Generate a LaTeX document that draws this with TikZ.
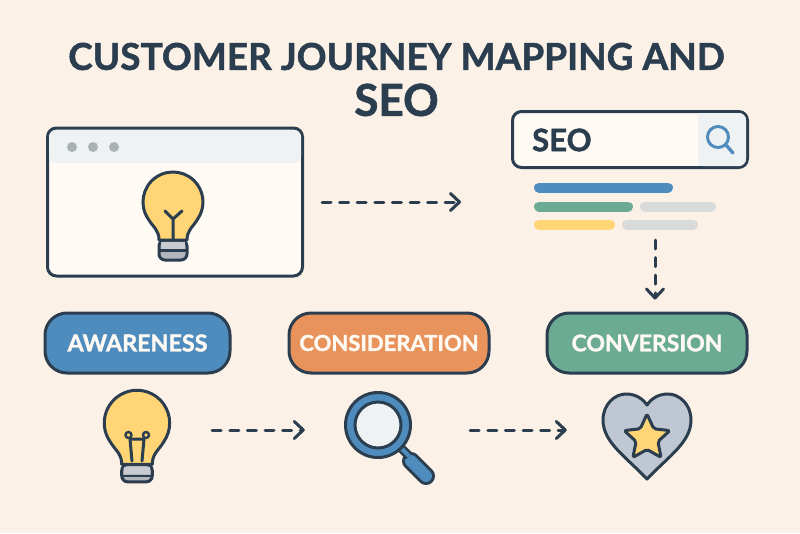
\documentclass[tikz,border=0pt]{standalone}
\usepackage{fontspec}
\setmainfont{Lato}[BoldFeatures={FakeBold=1.4}]
\usetikzlibrary{arrows.meta,shapes.geometric}
\definecolor{ink}{HTML}{2B3E50}
\definecolor{paper}{HTML}{FCF1E6}
\definecolor{panel}{HTML}{FFFAF4}
\definecolor{barfill}{HTML}{EFF2F3}
\definecolor{dotgrey}{HTML}{A9B1B5}
\definecolor{lamp}{HTML}{FFD575}
\definecolor{metal}{HTML}{B0B6BC}
\definecolor{awareblue}{HTML}{4F8CBE}
\definecolor{considerorange}{HTML}{E9935C}
\definecolor{convertgreen}{HTML}{6BAA93}
\definecolor{linegrey}{HTML}{D9DBDA}
\definecolor{heartgrey}{HTML}{BFC7D2}
\definecolor{pillwhite}{HTML}{FEFAF3}
\tikzset{
  stagepill/.style={draw=ink,line width=3pt,rounded corners=22pt,minimum height=60pt,
    text=pillwhite,font=\fontsize{23.3}{28}\selectfont\bfseries,inner sep=0pt},
  iconbox/.style={minimum size=60pt,inner sep=0pt},
  flow/.style={draw=ink,line width=3pt,dash pattern=on 9pt off 8.6pt,line cap=round,
    -{Straight Barb[length=9pt,width=17pt,round]}},
  resultbar/.style={line width=10pt,line cap=round},
  outline/.style={draw=ink,line width=3pt,line join=round},
  pics/bulb/.style={code={
    \path[outline,fill=metal,rounded corners=6pt] (-14,38) -- (-14,#1) -- (14,#1) -- (14,38) -- cycle;
    \fill[metal!70!white] (-12,40) rectangle (12,47);
    \draw[ink,line width=2.4pt] (-14,48.5) -- (14,48.5);
    \path[outline,fill=lamp] (-14,38) .. controls (-14,28) and (-20,25) .. (-24.6,17.2)
      arc[start angle=145,end angle=395,radius=30]
      .. controls (20,25) and (14,28) .. (14,38) -- cycle;
  }}
}
\begin{document}
\begin{tikzpicture}[x=1pt,y=-1pt]
  \path[use as bounding box,fill=paper] (0,0) rectangle (800,533);
  \node[text=ink,align=center,font=\fontsize{37}{44}\selectfont\bfseries] (title) at (396.5,79.5)
    {CUSTOMER JOURNEY MAPPING AND\\[2pt]{\fontsize{44}{44}\selectfont SEO}};

  % browser window
  \node[draw=ink,line width=3pt,fill=panel,rounded corners=9pt,minimum width=255pt,minimum height=148pt,inner sep=0pt] (window) at (175,202) {};
  \fill[barfill,rounded corners=7pt] (49,130) -- (49,163) -- (301,163) -- (301,130) -- cycle;
  \foreach \x in {72,93,114}
    \fill[dotgrey] (\x,147) circle (5);
  \pic at (173,202) {bulb=58};
  \draw[ink,line width=3pt,line cap=round,line join=round] (173,240) -- (173,219) (165,211) -- (173,219) -- (182,211);

  % search box
  \node[draw=ink,line width=3pt,fill=panel,rounded corners=9pt,minimum width=235pt,minimum height=56pt,inner sep=0pt] (searchbox) at (630,139.5) {};
  \fill[barfill,rounded corners=7pt] (698,113) rectangle (746,166);
  \fill[barfill] (698,113) rectangle (725,166);
  \node[anchor=west,text=ink,inner sep=0pt,font=\fontsize{31}{32}\selectfont\bfseries] (seoword) at (532,140) {SEO};
  \node[draw=awareblue,circle,line width=3pt,minimum size=21pt,inner sep=0pt] (searchlens) at (718,137) {};
  \draw[awareblue,line width=3.4pt,line cap=round] (searchlens.-45) -- (733,153);

  % result lines
  \node[minimum width=182pt,minimum height=47pt,inner sep=0pt] (results) at (625,207) {};
  \draw[resultbar,awareblue] (539,187.5) -- (668,187.5);
  \draw[resultbar,convertgreen] (539,206.5) -- (628,206.5);
  \draw[resultbar,linegrey] (645,206.5) -- (711,206.5);
  \draw[resultbar,lamp] (539,224.5) -- (610,224.5);
  \draw[resultbar,linegrey] (627,224.5) -- (693,224.5);

  % stages
  \node[stagepill,fill=awareblue,minimum width=185pt] (awareness) at (137.5,343) {AWARENESS};
  \node[stagepill,fill=considerorange,minimum width=200pt,font=\fontsize{22}{28}\selectfont\bfseries] (consideration) at (389,343) {CONSIDERATION};
  \node[stagepill,fill=convertgreen,minimum width=200pt,font=\fontsize{23}{28}\selectfont\bfseries] (conversion) at (647,343) {CONVERSION};

  % icons
  \node[iconbox] (bulbicon) at (137,430) {};
  \pic[scale=1.09] at (137,423) {bulb=54};
  \draw[ink,line width=3pt,line cap=round,line join=round] (132,461) -- (130,439) -- (144,439) -- (142,461);
  \draw[ink,fill=lamp,line width=2.4pt] (128.5,435) circle (3) (146,435) circle (3);

  \node[iconbox] (lensicon) at (378,430) {};
  \draw[ink,line width=18pt,line cap=round] (411,461) -- (426,476);
  \draw[awareblue,line width=12pt,line cap=round] (411,461) -- (426,476);
  \draw[ink,line width=9pt] (398,445) -- (409,456);
  \draw[awareblue,line width=4pt] (398,445) -- (409,456);
  \node[draw=ink,fill=awareblue,circle,line width=3pt,minimum size=65pt,inner sep=0pt] (lensrim) at (378,425) {};
  \node[draw=ink,fill=barfill,circle,line width=3pt,minimum size=46pt,inner sep=0pt] (lensglass) at (378,425) {};

  \node[iconbox] (hearticon) at (647,430) {};
  \path[outline,fill=heartgrey] (647,479) .. controls (625,456) and (603,442) .. (603,420)
    .. controls (603,404) and (615,394) .. (626,394) .. controls (636,394) and (643,399) .. (647,405)
    .. controls (651,399) and (658,394) .. (668,394) .. controls (679,394) and (691,404) .. (691,420)
    .. controls (691,442) and (669,456) .. (647,479) -- cycle;
  \node[star,star points=5,star point ratio=2.1,draw=ink,fill=lamp,line width=3pt,line join=round,
    rounded corners=2pt,minimum size=48pt,inner sep=0pt] (staricon) at (647,438) {};

  % connectors
  \coordinate (downstart) at (655,240);
  \draw[flow,shorten <=18pt,shorten >=50pt] (window.east) -- (window.east -| searchbox.west);
  \draw[flow] (downstart) -- ([yshift=12pt]downstart |- conversion.north);
  \draw[flow,shorten <=45pt,shorten >=43pt] (bulbicon) -- (lensicon.west);
  \draw[flow,shorten <=62pt,shorten >=50pt] (lensicon.east) -- (hearticon.west);
\end{tikzpicture}
\end{document}
